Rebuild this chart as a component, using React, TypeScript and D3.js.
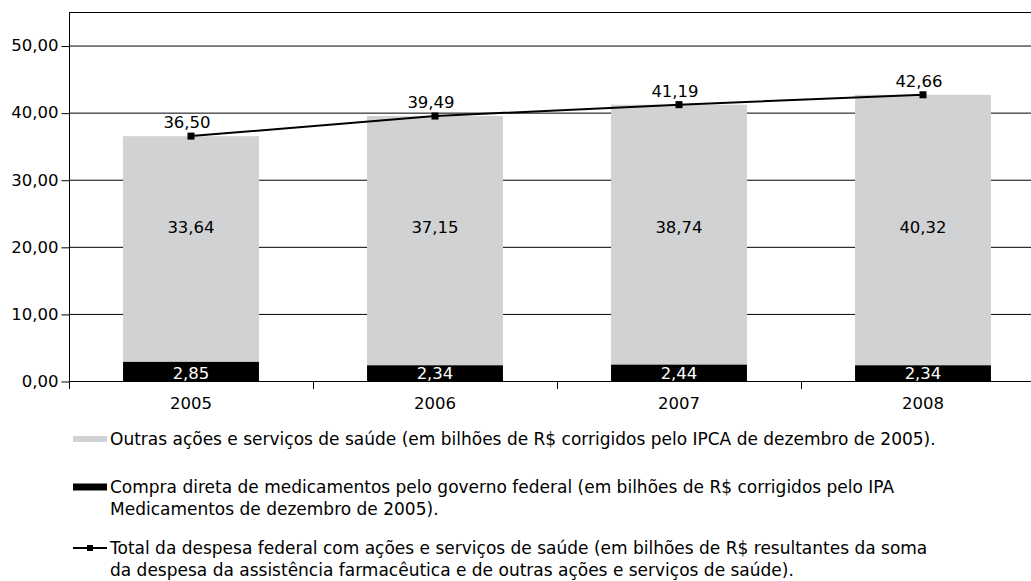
import * as d3 from 'd3';
import React, { useEffect, useRef } from 'react';

const years = ['2005', '2006', '2007', '2008'];
const compraDireta = [2.85, 2.34, 2.44, 2.34];
const outrasAcoes = [33.64, 37.15, 38.74, 40.32];
const totalDespesa = [36.5, 39.49, 41.19, 42.66];
const yTicks = [0, 10, 20, 30, 40, 50];

const legendItems = [
    { kind: 'gray', lines: ['Outras ações e serviços de saúde (em bilhões de R$ corrigidos pelo IPCA de dezembro de 2005).'] },
    { kind: 'black', lines: ['Compra direta de medicamentos pelo governo federal (em bilhões de R$ corrigidos pelo IPA', 'Medicamentos de dezembro de 2005).'] },
    { kind: 'line', lines: ['Total da despesa federal com ações e serviços de saúde (em bilhões de R$ resultantes da soma', 'da despesa da assistência farmacêutica e de outras ações e serviços de saúde).'] },
];

const fmt = (v: number) => v.toFixed(2).replace('.', ',');

const App = () => {
    const ref = useRef<SVGSVGElement | null>(null);
    const svgWidth = 1031;
    const svgHeight = 581;
    const left = 69, right = 1045, top = 12, bottom = 381;
    const font = '"DejaVu Sans", sans-serif';
    const fs = '16.5px';
    const gray = '#d1d2d4';

    useEffect(() => {
        document.body.style.margin = '0';
        const svg = d3.select(ref.current);
        svg.selectAll('*').remove();

        const x = d3.scaleBand().domain(years).range([left, right]).padding(0);
        const y = d3.scaleLinear().domain([0, 55]).range([bottom, top]);
        const barW = x.bandwidth() * 0.557;
        const cx = (i: number) => (x(years[i]) as number) + x.bandwidth() / 2;

        // gridlines + top border
        svg.append('g').selectAll('line')
            .data([...yTicks.slice(1), 55])
            .join('line')
            .attr('x1', left).attr('x2', right)
            .attr('y1', d => y(d) + 0.5).attr('y2', d => y(d) + 0.5)
            .attr('stroke', '#000').attr('stroke-width', 1);

        // bars - gray segment
        svg.append('g').selectAll('rect')
            .data(outrasAcoes)
            .join('rect')
            .attr('x', (d, i) => cx(i) - barW / 2)
            .attr('width', barW)
            .attr('y', (d, i) => y(compraDireta[i] + d))
            .attr('height', (d, i) => y(compraDireta[i]) - y(compraDireta[i] + d))
            .attr('fill', gray);

        // bars - black segment
        svg.append('g').selectAll('rect')
            .data(compraDireta)
            .join('rect')
            .attr('x', (d, i) => cx(i) - barW / 2)
            .attr('width', barW)
            .attr('y', d => y(d))
            .attr('height', d => y(0) - y(d))
            .attr('fill', '#000');

        // y axis
        const yAxis = svg.append('g')
            .attr('transform', `translate(${left + 0.5},0)`)
            .call(d3.axisLeft(y).tickValues(yTicks).tickSize(8).tickPadding(3).tickFormat(d => fmt(+d)));
        yAxis.select('.domain').attr('d', `M0,${top}V${bottom + 8}`).attr('stroke', '#000');
        yAxis.selectAll('.tick line').attr('transform', 'translate(0,0.5)');
        yAxis.selectAll('text').style('font-family', font).style('font-size', fs).attr('fill', '#000');

        // x axis
        svg.append('line')
            .attr('x1', left).attr('x2', right)
            .attr('y1', bottom + 0.5).attr('y2', bottom + 0.5)
            .attr('stroke', '#000');
        svg.append('g').selectAll('line')
            .data(years.slice(1))
            .join('line')
            .attr('x1', d => (x(d) as number) + 0.5).attr('x2', d => (x(d) as number) + 0.5)
            .attr('y1', bottom).attr('y2', bottom + 8)
            .attr('stroke', '#000');
        svg.append('g').selectAll('text')
            .data(years)
            .join('text')
            .attr('x', (d, i) => cx(i))
            .attr('y', 409)
            .attr('text-anchor', 'middle')
            .style('font-family', font).style('font-size', fs)
            .text(d => d);

        // value labels
        svg.append('g').selectAll('text')
            .data(compraDireta)
            .join('text')
            .attr('x', (d, i) => cx(i))
            .attr('y', bottom - 2)
            .attr('text-anchor', 'middle')
            .attr('fill', '#fff')
            .style('font-family', font).style('font-size', fs)
            .text(d => fmt(d));
        svg.append('g').selectAll('text')
            .data(outrasAcoes)
            .join('text')
            .attr('x', (d, i) => cx(i))
            .attr('y', y(23) + 6)
            .attr('text-anchor', 'middle')
            .style('font-family', font).style('font-size', fs)
            .text(d => fmt(d));

        // total line
        const line = d3.line<number>().x((d, i) => cx(i)).y(d => y(d));
        svg.append('path')
            .datum(totalDespesa)
            .attr('d', line)
            .attr('fill', 'none')
            .attr('stroke', '#000')
            .attr('stroke-width', 2);
        svg.append('g').selectAll('rect')
            .data(totalDespesa)
            .join('rect')
            .attr('x', (d, i) => cx(i) - 3.5)
            .attr('y', d => y(d) - 3.5)
            .attr('width', 7).attr('height', 7)
            .attr('fill', '#000');
        svg.append('g').selectAll('text')
            .data(totalDespesa)
            .join('text')
            .attr('x', (d, i) => cx(i) - 4)
            .attr('y', d => y(d) - 8)
            .attr('text-anchor', 'middle')
            .style('font-family', font).style('font-size', fs)
            .text(d => fmt(d));

        // legend
        const legendY = [439, 487, 548];
        legendItems.forEach((item, k) => {
            const g = svg.append('g').attr('transform', `translate(73,${legendY[k]})`);
            if (item.kind === 'gray') {
                g.append('rect').attr('x', 0).attr('y', -3).attr('width', 34).attr('height', 6).attr('fill', gray);
            } else if (item.kind === 'black') {
                g.append('rect').attr('x', 0).attr('y', -3.5).attr('width', 34).attr('height', 7).attr('fill', '#000');
            } else {
                g.append('line').attr('x1', 0).attr('x2', 34).attr('y1', 0).attr('y2', 0).attr('stroke', '#000').attr('stroke-width', 2);
                g.append('rect').attr('x', 14).attr('y', -3).attr('width', 6).attr('height', 6).attr('fill', '#000');
            }
            item.lines.forEach((t, j) => {
                g.append('text')
                    .attr('x', 37)
                    .attr('y', 6 + j * 22)
                    .style('font-family', font).style('font-size', '17px')
                    .text(t);
            });
        });
    }, []);

    return (
        <div>
            <svg ref={ref} width={svgWidth} height={svgHeight} style={{ display: 'block' }}></svg>
        </div>
    );
};

export default App;
